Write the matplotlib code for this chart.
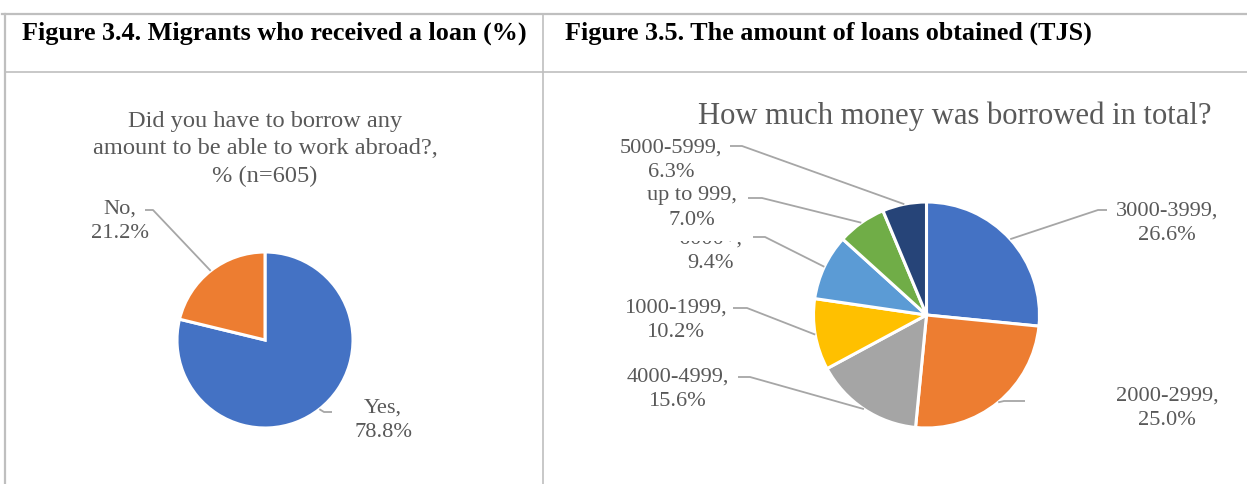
import matplotlib
matplotlib.use('Agg')
import matplotlib.pyplot as plt
from matplotlib.patches import Rectangle
import numpy as np

# Figure 3.4: did migrants borrow to work abroad
loan_labels = ['Yes', 'No']
loan_share = [78.8, 21.2]
loan_colors = ['#4472C4', '#ED7D31']

# Figure 3.5: amount borrowed (TJS)
amount_labels = ['3000-3999', '2000-2999', '4000-4999', '1000-1999',
                 '6000+', 'up to 999', '5000-5999']
amount_share = [26.6, 25.0, 15.6, 10.2, 9.4, 7.0, 6.3]
amount_colors = ['#4472C4', '#ED7D31', '#A5A5A5', '#FFC000',
                 '#5B9BD5', '#70AD47', '#264478']

W, H = 1247, 484
TEXT_GRAY = '#595959'
LEADER_GRAY = '#A6A6A6'
GRID_GRAY = '#BFBFBF'
SERIF = 'Liberation Serif'

fig = plt.figure(figsize=(W / 100, H / 100), dpi=100)
ax = fig.add_axes([0, 0, 1, 1])


def draw_pie(values, colors, names, center, radius, label_pos, leaders):
    # y axis is inverted, so counterclock=True runs clockwise on screen
    wedges, _ = ax.pie(values, colors=colors, startangle=-90, counterclock=True,
                       center=center, radius=radius, frame=True,
                       wedgeprops=dict(edgecolor='white', linewidth=2.2))
    for i, (w, name, val) in enumerate(zip(wedges, names, values)):
        mid = np.deg2rad((w.theta1 + w.theta2) / 2)
        wx = center[0] + radius * np.cos(mid)
        wy = center[1] + radius * np.sin(mid)
        (x0, x1, ly) = leaders[i]
        ax.plot([x0, x1, wx], [ly, ly, wy], color=LEADER_GRAY, lw=1.3,
                solid_capstyle='butt', zorder=2)
        ax.text(label_pos[i][0], label_pos[i][1], f"{name},\n{val:.1f}%",
                ha='center', va='center', multialignment='center',
                fontsize=16.1, family=SERIF, color=TEXT_GRAY,
                linespacing=1.42, zorder=3)


# table frame
ax.plot([2, W], [14, 14], color=GRID_GRAY, lw=1.6)
ax.plot([5, W], [72, 72], color=GRID_GRAY, lw=1.2)
ax.plot([5, 5], [14, H], color=GRID_GRAY, lw=1.6)
ax.plot([543, 543], [14, H], color=GRID_GRAY, lw=1.2)

ax.text(22, 33, 'Figure 3.4. Migrants who received a loan (%)', ha='left', va='center',
        fontsize=18.8, family=SERIF, fontweight='bold', color='black')
ax.text(565, 33, 'Figure 3.5. The amount of loans obtained (TJS)', ha='left', va='center',
        fontsize=18.8, family=SERIF, fontweight='bold', color='black')

# left chart
ax.text(265, 149, 'Did you have to borrow any\namount to be able to work abroad?,\n% (n=605)',
        ha='center', va='center', multialignment='center', fontsize=17.6,
        family=SERIF, color=TEXT_GRAY, linespacing=1.42)
draw_pie(loan_share, loan_colors, loan_labels, center=(265, 340), radius=88,
         label_pos=[(383, 420), (120, 221)],
         leaders=[(332, 324, 412), (145, 153, 210)])

# right chart
ax.text(955, 116, 'How much money was borrowed in total?', ha='center', va='center',
        fontsize=22.1, family=SERIF, color=TEXT_GRAY)
draw_pie(amount_share, amount_colors, amount_labels, center=(926.5, 315), radius=113,
         label_pos=[(1167, 223), (1167, 408), (678, 389), (676, 320),
                    (711, 251), (692, 208), (671, 160)],
         leaders=[(1107, 1098, 210), (1025, 1004, 401), (738, 750, 377),
                  (733, 747, 308), (753, 765, 237), (748, 762, 198),
                  (730, 742, 146)])

# the "up to 999" label box sits over the top of the "6000+" label
ax.add_patch(Rectangle((668, 229), 82, 12, facecolor='white', edgecolor='none', zorder=3.5))

ax.set_xlim(0, W)
ax.set_ylim(H, 0)
ax.axis('off')

fig.savefig('out.png', dpi=100, facecolor='white')
